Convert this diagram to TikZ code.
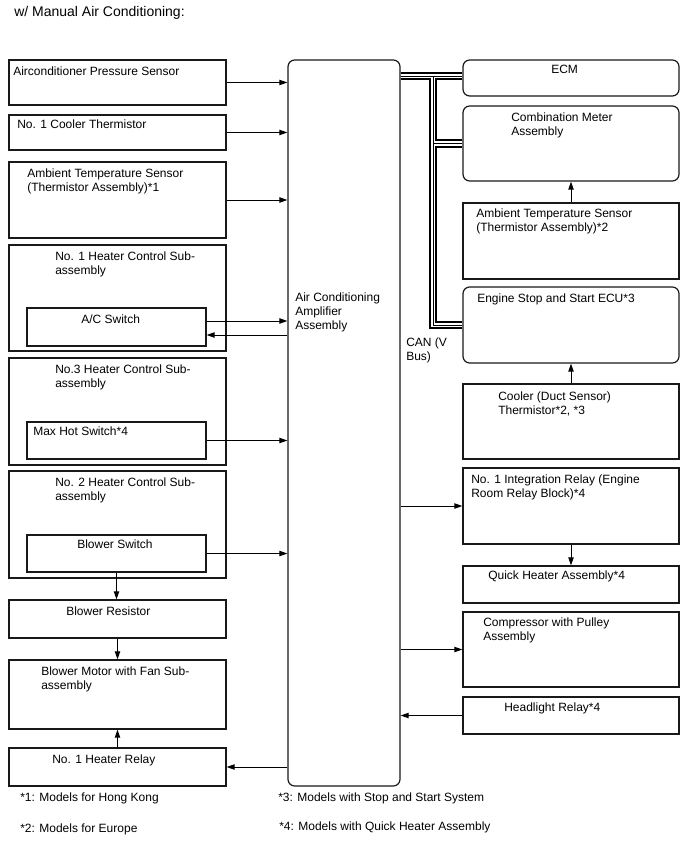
\documentclass[tikz,border=0pt]{standalone}
\usepackage{fontspec}
\setmainfont{Liberation Sans}
\usepackage{tikz}
\usetikzlibrary{arrows.meta, positioning, fit, calc}

\begin{document}
\begin{tikzpicture}[
  x=0.75pt, y=-0.75pt,
  box_sq/.style={rectangle, draw=black!90, line width=0.9pt, inner sep=0pt},
  box_rd/.style={box_sq, rounded corners=5pt},
  lbl/.style={anchor=base west, inner sep=0pt, align=left, font=\fontsize{9}{10.5}\selectfont},
  ttl/.style={anchor=base west, inner sep=0pt, font=\fontsize{10.5}{12}\selectfont},
  arr/.style={-{Triangle[length=6pt, width=4pt]}, line width=0.7pt},
  canbus/.style={line width=0.6pt, preaction={draw, line width=6.5pt}, preaction={draw=white, line width=3.6pt}}
]
\useasboundingbox (0,0) rectangle (688,852);

\node[ttl] (title) at (14,17) {w/ Manual Air Conditioning:};

% Amplifier
\node[box_rd, fit={(288,60) (400,786)}] (amp) {};
\node[lbl] at (295,329) {Air Conditioning\\Amplifier\\Assembly};

% Inputs (left)
\node[box_sq, fit={(9,60) (226,105)}] (press) {};
\node[box_sq, fit={(9,115) (226,150)}] (cooler) {};
\node[box_sq, fit={(9,162) (226,238)}] (amb1) {};
\node[box_sq, fit={(9,245) (226,351)}] (htr1) {};
\node[box_sq, fit={(27,308) (206,346)}] (acsw) {};
\node[box_sq, fit={(9,358) (226,465)}] (htr3) {};
\node[box_sq, fit={(27,422) (206,459)}] (maxhot) {};
\node[box_sq, fit={(9,471) (226,578)}] (htr2) {};
\node[box_sq, fit={(27,535) (206,572)}] (blowsw) {};
\node[box_sq, fit={(9,600) (226,638)}] (blowres) {};
\node[box_sq, fit={(9,660) (226,729)}] (blowmot) {};
\node[box_sq, fit={(9,748) (226,786)}] (htrrly) {};

% (multi-line labels are placed by their last line)
\node[lbl] at (13,76) {Airconditioner Pressure Sensor};
\node[lbl] at (17,129) {No. 1 Cooler Thermistor};
\node[lbl] at (27,192) {Ambient Temperature Sensor\\(Thermistor Assembly)*1};
\node[lbl] at (55,274) {No. 1 Heater Control Sub-\\assembly};
\node[lbl] at (81,323) {A/C Switch};
\node[lbl] at (55,387) {No.3 Heater Control Sub-\\assembly};
\node[lbl] at (33,435) {Max Hot Switch*4};
\node[lbl] at (55,500) {No. 2 Heater Control Sub-\\assembly};
\node[lbl] at (77,548) {Blower Switch};
\node[lbl] at (66,615) {Blower Resistor};
\node[lbl] at (41,689) {Blower Motor with Fan Sub-\\assembly};
\node[lbl] at (52,763) {No. 1 Heater Relay};

% Outputs (right)
\node[box_rd, fit={(463,60) (679,96)}] (ecm) {};
\node[box_rd, fit={(463,106) (679,181)}] (comb) {};
\node[box_sq, fit={(463,203) (679,279)}] (amb2) {};
\node[box_rd, fit={(463,287) (679,363)}] (ecu) {};
\node[box_sq, fit={(463,384) (679,459)}] (duct) {};
\node[box_sq, fit={(463,468) (679,544)}] (intrly) {};
\node[box_sq, fit={(463,566) (679,603)}] (qheat) {};
\node[box_sq, fit={(463,612) (679,687)}] (comp) {};
\node[box_sq, fit={(463,697) (679,734)}] (hdlt) {};

\node[lbl] at (551,74) {ECM};
\node[lbl] at (511,136) {Combination Meter\\Assembly};
\node[lbl] at (476,232) {Ambient Temperature Sensor\\(Thermistor Assembly)*2};
\node[lbl] at (477,302) {Engine Stop and Start ECU*3};
\node[lbl] at (498,414) {Cooler (Duct Sensor)\\Thermistor*2, *3};
\node[lbl] at (471,497) {No. 1 Integration Relay (Engine\\Room Relay Block)*4};
\node[lbl] at (488,579) {Quick Heater Assembly*4};
\node[lbl] at (483,640) {Compressor with Pulley\\Assembly};
\node[lbl] at (504,711) {Headlight Relay*4};
\node[lbl] at (406,360) {CAN (V\\Bus)};

% Notes
\node[lbl] at (20,801) {*1: Models for Hong Kong};
\node[lbl] at (20,832) {*2: Models for Europe};
\node[lbl] at (278,801) {*3: Models with Stop and Start System};
\node[lbl] at (279,830) {*4: Models with Quick Heater Assembly};

% CAN bus
\coordinate (canx) at (433,0);
\draw[canbus] (amp.east |- 0,76) -- (ecm.west |- 0,76)
  (canx |- 0,76) |- (comb.west)
  (canx |- comb.west) |- (ecu.west);

% Edges - inputs
\draw[arr] (press.east) -- (press.east -| amp.west);
\draw[arr] (cooler.east) -- (cooler.east -| amp.west);
\draw[arr] (amb1.east) -- (amb1.east -| amp.west);
\draw[arr] ($(acsw.east)+(0,-6)$) -- ($(acsw.east -| amp.west)+(0,-6)$);
\draw[arr] ($(acsw.east -| amp.west)+(0,8)$) -- ($(acsw.east)+(0,8)$);
\draw[arr] (maxhot.east) -- (maxhot.east -| amp.west);
\draw[arr] (blowsw.east) -- (blowsw.east -| amp.west);

% Edges - blower chain
\draw[arr] (blowsw.south) -- (blowsw.south |- blowres.north);
\draw[arr] (blowres.south) -- (blowmot.north);
\draw[arr] (htrrly.north) -- (blowmot.south);
\draw[arr] (htrrly.east -| amp.west) -- (htrrly.east);

% Edges - outputs
\draw[arr] (amb2.north) -- (comb.south);
\draw[arr] (duct.north) -- (ecu.south);
\draw[arr] (amp.east |- intrly.west) -- (intrly.west);
\draw[arr] (intrly.south) -- (qheat.north);
\draw[arr] (amp.east |- comp.west) -- (comp.west);
\draw[arr] (hdlt.west) -- (hdlt.west -| amp.east);

\end{tikzpicture}
\end{document}
